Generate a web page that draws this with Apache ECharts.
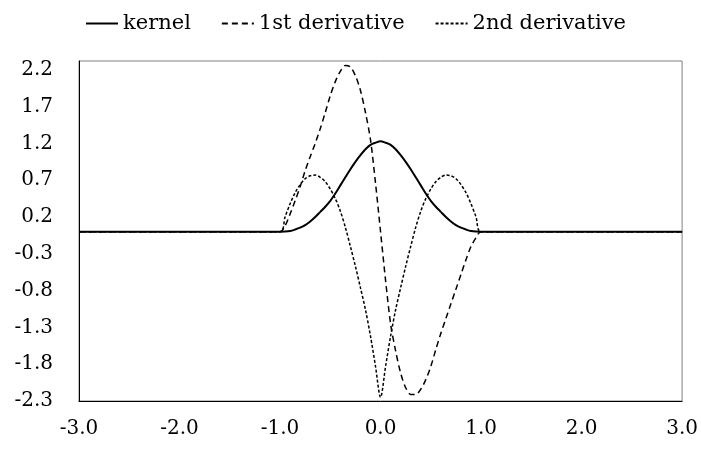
<!DOCTYPE html>
<html>
<head>
<meta charset="utf-8">
<script src="https://cdn.jsdelivr.net/npm/echarts@6/dist/echarts.min.js"></script>
<style>
  html, body { margin: 0; padding: 0; background: #fff; }
  #chart { width: 701px; height: 452px; }
</style>
</head>
<body>
<div id="chart"></div>
<script>
// x positions
const xValues = [-3.0, -1.0, -0.95, -0.9, -0.85, -0.8, -0.75, -0.7, -0.65, -0.6, -0.55, -0.5, -0.45, -0.4, -0.35, -0.3, -0.25, -0.2, -0.15, -0.1, -0.05,
  0, 0.05, 0.1, 0.15, 0.2, 0.25, 0.3, 0.35, 0.4, 0.45, 0.5, 0.55, 0.6, 0.65, 0.7, 0.75, 0.8, 0.85, 0.9, 0.95, 1.0, 3.0];

const kernel = [0, 0, 0.002, 0.01, 0.03, 0.055, 0.09, 0.14, 0.2, 0.27, 0.34, 0.42, 0.52, 0.63, 0.74, 0.85, 0.95, 1.04, 1.12, 1.18, 1.21,
  1.23, 1.21, 1.18, 1.12, 1.04, 0.95, 0.85, 0.74, 0.63, 0.52, 0.42, 0.34, 0.27, 0.2, 0.14, 0.09, 0.055, 0.03, 0.01, 0.002, 0, 0];

const firstDeriv = [0, 0, 0.08, 0.24, 0.42, 0.61, 0.83, 1.02, 1.2, 1.4, 1.62, 1.85, 2.04, 2.18, 2.26, 2.24, 2.12, 1.92, 1.62, 1.25, 0.66,
  0, -0.66, -1.25, -1.62, -1.92, -2.12, -2.21, -2.21, -2.14, -2.01, -1.83, -1.6, -1.38, -1.18, -0.98, -0.78, -0.58, -0.38, -0.2, -0.08, 0, 0];

const secondDeriv = [0, 0, 0.2, 0.38, 0.53, 0.64, 0.72, 0.76, 0.77, 0.74, 0.68, 0.58, 0.45, 0.28, 0.06, -0.2, -0.47, -0.76, -1.06, -1.42, -1.83,
  -2.25, -1.83, -1.42, -1.06, -0.76, -0.47, -0.2, 0.06, 0.28, 0.45, 0.58, 0.68, 0.74, 0.77, 0.76, 0.72, 0.64, 0.53, 0.38, 0.2, 0, 0];

const seriesNames = ['kernel', '1st derivative', '2nd derivative'];

const pairs = (ys) => xValues.map((x, i) => [x, ys[i]]);
const labelFont = 'DejaVu Serif';

const chart = echarts.init(document.getElementById('chart'), null, { renderer: 'canvas' });

chart.setOption({
  animation: false,
  backgroundColor: '#fff',
  legend: {
    left: 80,
    top: 8,
    itemWidth: 32,
    itemHeight: 20,
    itemGap: 30,
    itemStyle: { opacity: 0, borderWidth: 0 },
    textStyle: { fontFamily: labelFont, fontSize: 21, color: '#000' },
    data: seriesNames,
  },
  grid: {
    left: 79,
    right: 18,
    top: 61,
    bottom: 51,
    show: true,
    borderColor: '#808080',
    borderWidth: 1,
  },
  xAxis: {
    type: 'value',
    min: -3,
    max: 3,
    interval: 1,
    axisLine: { onZero: false, lineStyle: { color: '#000', width: 1 } },
    axisTick: { show: false },
    splitLine: { show: false },
    axisLabel: {
      margin: 18,
      fontFamily: labelFont,
      fontSize: 20,
      color: '#000',
      formatter: (v) => v.toFixed(1),
    },
  },
  yAxis: {
    type: 'value',
    min: -2.3,
    max: 2.32,
    interval: 0.5,
    axisLine: { show: true, onZero: false, lineStyle: { color: '#000', width: 1 } },
    axisTick: { show: false },
    splitLine: { show: false },
    axisLabel: {
      margin: 26,
      showMaxLabel: false,
      fontFamily: labelFont,
      fontSize: 20,
      color: '#000',
      formatter: (v) => v.toFixed(1),
    },
  },
  series: [
    {
      name: seriesNames[0],
      type: 'line',
      symbol: 'none',
      smooth: 0.3,
      data: pairs(kernel),
      lineStyle: { color: '#000', width: 2, type: 'solid' },
      itemStyle: { color: '#000' },
    },
    {
      name: seriesNames[1],
      type: 'line',
      symbol: 'none',
      smooth: 0.3,
      data: pairs(firstDeriv),
      lineStyle: { color: '#000', width: 1.5, type: [6, 4] },
      itemStyle: { color: '#000' },
    },
    {
      name: seriesNames[2],
      type: 'line',
      symbol: 'none',
      smooth: 0.3,
      data: pairs(secondDeriv),
      lineStyle: { color: '#000', width: 1.5, type: [3, 2] },
      itemStyle: { color: '#000' },
    },
  ],
});
</script>
</body>
</html>
